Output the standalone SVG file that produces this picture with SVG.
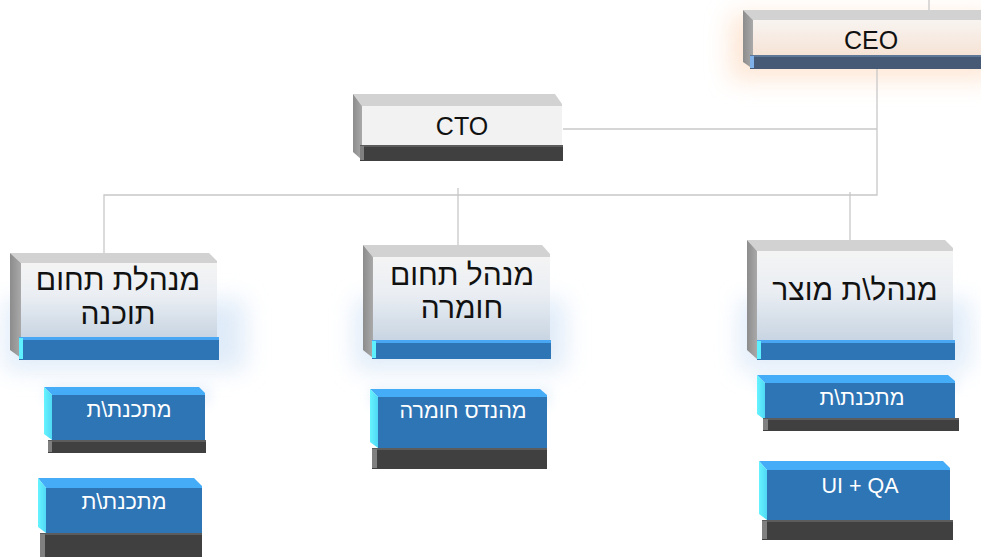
<svg xmlns="http://www.w3.org/2000/svg" width="981" height="557" viewBox="0 0 981 557">
<defs>
<filter id="blur" x="-50%" y="-50%" width="200%" height="200%"><feGaussianBlur stdDeviation="12"/></filter>
<filter id="blurS" x="-50%" y="-50%" width="200%" height="200%"><feGaussianBlur stdDeviation="6"/></filter>
<linearGradient id="gSide" x1="0" y1="0" x2="1" y2="0"><stop offset="0" stop-color="#8c8c8c"/><stop offset="1" stop-color="#a9a9a9"/></linearGradient>
<linearGradient id="gCeo" x1="0" y1="0" x2="0" y2="1"><stop offset="0" stop-color="#f8f4f0"/><stop offset="1" stop-color="#f6e3d6"/></linearGradient>
<linearGradient id="gL2" x1="0" y1="0" x2="0" y2="1"><stop offset="0" stop-color="#f4f4f4"/><stop offset="0.45" stop-color="#eaeef3"/><stop offset="1" stop-color="#c8d5e2"/></linearGradient>
<linearGradient id="gCyan" x1="0" y1="0" x2="1" y2="0"><stop offset="0" stop-color="#66f4ff"/><stop offset="1" stop-color="#4fd8f5"/></linearGradient>
</defs>
<style>
.conn{stroke:#c8c8c8;stroke-width:1.3;fill:none}
.top{fill:#d2d2d2}
.side{fill:url(#gSide)}
.ctop{fill:#45adf8}
.cside{fill:url(#gCyan)}
.cfront{fill:#2e75b6}
.dbar{fill:#404040}
.dbarT{fill:#5c5c5c}
.dbarL{fill:#808080}
.bbar{fill:#2e75b6}
.bbarT{fill:#48a6f2}
.bbarL{fill:#5ef0ff}
.t1{font-family:"Liberation Sans","DejaVu Sans",sans-serif;font-size:25px;fill:#111;text-anchor:middle}
.t2{font-family:"Liberation Sans","DejaVu Sans",sans-serif;font-size:30px;fill:#111;text-anchor:middle}
.t3{font-family:"Liberation Sans","DejaVu Sans",sans-serif;font-size:21.5px;fill:#fff;text-anchor:middle}
</style>

<!-- glows -->
<g id="glows">
<rect x="730" y="15" width="265" height="65" fill="#fde3cf" filter="url(#blur)" opacity="0.85"/>
<rect x="5" y="300" width="240" height="70" fill="#d7e6f7" filter="url(#blur)" opacity="0.8"/>
<rect x="355" y="300" width="210" height="70" fill="#d7e6f7" filter="url(#blur)" opacity="0.8"/>
<rect x="740" y="300" width="230" height="70" fill="#d7e6f7" filter="url(#blur)" opacity="0.8"/>
<rect x="45" y="385" width="165" height="20" fill="#e3eefa" filter="url(#blurS)" opacity="0.7"/>
<rect x="370" y="387" width="180" height="20" fill="#e3eefa" filter="url(#blurS)" opacity="0.7"/>
<rect x="757" y="372" width="200" height="20" fill="#e3eefa" filter="url(#blurS)" opacity="0.7"/>
</g>

<g id="connectors">
<line class="conn" x1="929" y1="0" x2="929" y2="10"/>
<polyline class="conn" points="877,69 877,195 104,195 104,253"/>
<line class="conn" x1="563" y1="129" x2="877" y2="129"/>
<line class="conn" x1="458" y1="188" x2="458" y2="245"/>
<line class="conn" x1="850" y1="192" x2="850" y2="240"/>
</g>

<g id="ceo">
<polygon class="top" points="743,10 990,10 990,20 753,20"/>
<polygon class="side" points="743,10 753,20 753,69 743,62"/>
<rect x="753" y="20" width="240" height="35" fill="url(#gCeo)"/>
<rect x="750" y="55" width="240" height="14" fill="#475a75"/>
<rect x="750" y="55" width="240" height="2" fill="#5f7898"/>
<rect x="750" y="56" width="4" height="12" fill="#7fb0e8"/>
<text class="t1" x="871" y="49">CEO</text>
</g>

<g id="cto">
<polygon class="top" points="353,94 555,94 562,104 562,106 362,106"/>
<polygon class="side" points="353,94 362,106 362,160 353,152"/>
<rect x="362" y="106" width="200" height="39" fill="#f2f2f2"/>
<rect class="dbar" x="360" y="145" width="203" height="16"/>
<rect class="dbarT" x="360" y="145" width="203" height="2"/>
<rect class="dbarL" x="360" y="146" width="4" height="14"/>
<text class="t1" x="462" y="135">CTO</text>
</g>

<g id="software-manager">
<polygon class="top" points="10,253 209,253 217,261 217,263 21,263"/>
<polygon class="side" points="10,253 21,263 21,358 10,350"/>
<rect x="21" y="263" width="196" height="74" fill="url(#gL2)"/>
<rect class="bbar" x="19" y="337" width="200" height="23"/>
<rect class="bbarT" x="19" y="337" width="200" height="3"/>
<rect class="bbarL" x="19" y="338" width="4" height="21"/>
<text class="t2" x="118" y="290">מנהלת תחום</text>
<text class="t2" x="118" y="324">תוכנה</text>
</g>

<g id="hardware-manager">
<polygon class="top" points="363,245 542,245 550,254 550,257 373,257"/>
<polygon class="side" points="363,245 373,257 373,358 363,350"/>
<rect x="373" y="257" width="177" height="83" fill="url(#gL2)"/>
<rect class="bbar" x="372" y="340" width="179" height="19"/>
<rect class="bbarT" x="372" y="340" width="179" height="3"/>
<rect class="bbarL" x="372" y="341" width="4" height="17"/>
<text class="t2" x="462" y="285">מנהל תחום</text>
<text class="t2" x="462" y="318">חומרה</text>
</g>

<g id="product-manager">
<polygon class="top" points="747,240 945,240 953,248 953,251 757,251"/>
<polygon class="side" points="747,240 757,251 757,359 747,350"/>
<rect x="757" y="251" width="196" height="89" fill="url(#gL2)"/>
<rect class="bbar" x="757" y="340" width="198" height="20"/>
<rect class="bbarT" x="757" y="340" width="198" height="3"/>
<rect class="bbarL" x="757" y="341" width="4" height="18"/>
<text class="t2" x="855" y="300">מנהל\ת מוצר</text>
</g>

<g id="sw-dev-1">
<polygon class="ctop" points="44,387 199,387 205,393 205,395 52,395"/>
<polygon class="cside" points="44,387 52,395 52,440 44,434"/>
<rect class="cfront" x="52" y="395" width="153" height="45"/>
<rect class="dbar" x="48" y="440" width="158" height="13"/>
<rect class="dbarT" x="48" y="440" width="158" height="2"/>
<rect class="dbarL" x="48" y="441" width="4" height="11"/>
<text class="t3" x="129" y="417">מתכנת\ת</text>
</g>

<g id="sw-dev-2">
<polygon class="ctop" points="38,478 194,478 202,486 202,488 46,488"/>
<polygon class="cside" points="38,478 46,488 46,533 38,527"/>
<rect class="cfront" x="46" y="488" width="156" height="45"/>
<rect class="dbar" x="40" y="533" width="162" height="24"/>
<rect class="dbarT" x="40" y="533" width="162" height="2"/>
<rect class="dbarL" x="40" y="534" width="5" height="23"/>
<text class="t3" x="124" y="509">מתכנת\ת</text>
</g>

<g id="hw-engineer">
<polygon class="ctop" points="370,389 540,389 547,395 547,397 378,397"/>
<polygon class="cside" points="370,389 378,397 378,448 370,442"/>
<rect class="cfront" x="378" y="397" width="169" height="51"/>
<rect class="dbar" x="372" y="448" width="175" height="21"/>
<rect class="dbarT" x="372" y="448" width="175" height="2"/>
<rect class="dbarL" x="372" y="449" width="5" height="19"/>
<text class="t3" x="463" y="418">מהנדס חומרה</text>
</g>

<g id="prod-dev">
<polygon class="ctop" points="757,375 948,375 955,381 955,383 765,383"/>
<polygon class="cside" points="757,375 765,383 765,420 757,414"/>
<rect class="cfront" x="765" y="383" width="190" height="35"/>
<rect class="dbar" x="763" y="418" width="196" height="13"/>
<rect class="dbarT" x="763" y="418" width="196" height="2"/>
<rect class="dbarL" x="763" y="419" width="5" height="11"/>
<text class="t3" x="862" y="405">מתכנת\ת</text>
</g>

<g id="ui-qa">
<polygon class="ctop" points="759,461 943,461 950,468 950,470 767,470"/>
<polygon class="cside" points="759,461 767,470 767,520 759,514"/>
<rect class="cfront" x="767" y="470" width="183" height="50"/>
<rect class="dbar" x="762" y="520" width="191" height="20"/>
<rect class="dbarT" x="762" y="520" width="191" height="2"/>
<rect class="dbarL" x="762" y="521" width="5" height="18"/>
<text class="t3" x="860" y="493">UI + QA</text>
</g>
</svg>
